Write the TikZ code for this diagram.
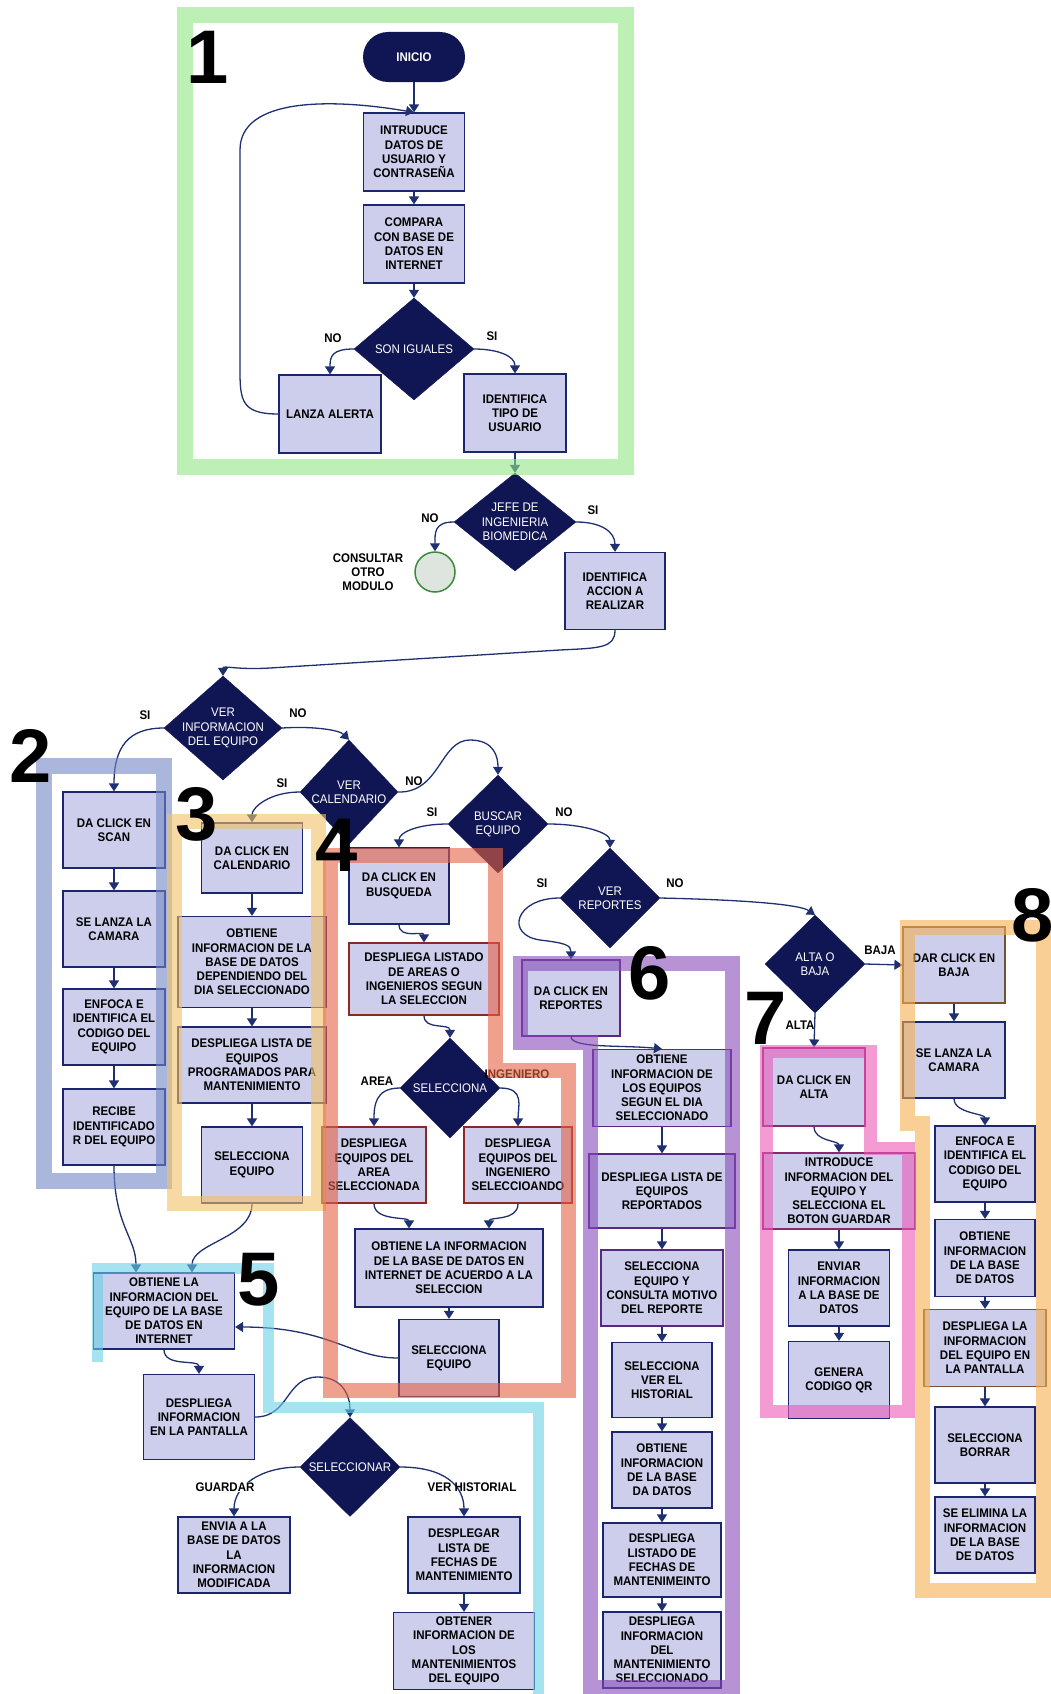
\documentclass[tikz,border=0pt]{standalone}
\usepackage{fontspec}
\usetikzlibrary{shapes.geometric,arrows.meta,calc}

\newfontfamily\cajafont[FakeStretch=0.92]{Liberation Sans}
\newfontfamily\numfont{Liberation Sans}
\newcommand{\cajatexto}{\cajafont\bfseries\fontsize{12.5}{14.3}\selectfont}
\newcommand{\rombotexto}{\cajafont\fontsize{12.5}{14.3}\selectfont}
\newcommand{\numtexto}{\numfont\bfseries\fontsize{76}{76}\selectfont}

\definecolor{marino}{RGB}{16,22,84}
\definecolor{lila}{RGB}{204,206,236}
\definecolor{bordecaja}{RGB}{28,38,110}
\definecolor{linea}{RGB}{30,48,112}
\definecolor{verdefin}{RGB}{58,138,58}
\definecolor{grisfin}{RGB}{222,228,222}
% colores de los marcos (se dibujan con opacidad)
\definecolor{verde1}{RGB}{145,230,132}
\definecolor{azul2}{RGB}{113,133,197}
\definecolor{naranja3}{RGB}{242,192,102}
\definecolor{salmon4}{RGB}{230,97,67}
\definecolor{cian5}{RGB}{107,208,230}
\definecolor{morado6}{RGB}{135,75,185}
\definecolor{rosa7}{RGB}{237,88,183}
\definecolor{naranja8}{RGB}{245,175,78}
\definecolor{borde4}{RGB}{140,40,40}
\definecolor{borde6}{RGB}{90,40,130}
\definecolor{borde7}{RGB}{140,40,110}
\definecolor{borde8}{RGB}{120,80,50}

\tikzset{
  caja/.style={rectangle, draw=bordecaja, line width=1.2pt, fill=lila, align=center, inner sep=1pt, font=\cajatexto},
  inicio/.style={rectangle, rounded corners=25pt, fill=marino, text=white, font=\cajatexto, minimum width=102pt, minimum height=50pt},
  rombo/.style={diamond, fill=marino, draw=marino, inner sep=0pt},
  rtexto/.style={text=white, align=center, font=\rombotexto, inner sep=0pt},
  fin/.style={circle, draw=verdefin, line width=1.5pt, fill=grisfin, minimum size=40pt, inner sep=0pt},
  flecha/.style={draw=linea, line width=1.3pt, -{Triangle[length=8pt,width=10pt]}},
  etiq/.style={font=\cajatexto, inner sep=1pt, align=center},
  marco/.style={line width=15pt, opacity=0.6, line join=miter},
  numero/.style={font=\numtexto, inner sep=0pt},
}

\begin{document}
\begin{tikzpicture}[x=1pt,y=1pt,yscale=-1]
\useasboundingbox (0,0) rectangle (1051,1694);

% modulo 1
\node[inicio] (inicio) at (414,57) {INICIO};
\node[caja, minimum width=101pt, minimum height=78pt] (intro) at (414,152) {INTRUDUCE\\DATOS DE\\USUARIO Y\\CONTRASEÑA};
\node[caja, minimum width=101pt, minimum height=78pt] (compara) at (414,244) {COMPARA\\CON BASE DE\\DATOS EN\\INTERNET};
\node[rombo, minimum width=120pt, minimum height=102pt, label={[rtexto]center:SON IGUALES}] (iguales) at (414,349) {};
\node[caja, minimum width=102pt, minimum height=78pt] (alerta) at (330,414) {LANZA ALERTA};
\node[caja, minimum width=102pt, minimum height=78pt] (tipo) at (515,413) {IDENTIFICA\\TIPO DE\\USUARIO};
\node[etiq] (lno1) at (333,338) {NO};
\node[etiq] (lsi1) at (492,336) {SI};

\node[rombo, minimum width=122pt, minimum height=98pt, label={[rtexto]center:JEFE DE\\INGENIERIA\\BIOMEDICA}] (jefe) at (515,522) {};
\node[fin] (otro) at (435,572) {};
\node[etiq] (consultar) at (368,572) {CONSULTAR\\OTRO\\MODULO};
\node[caja, minimum width=100pt, minimum height=77pt] (accion) at (615,591) {IDENTIFICA\\ACCION A\\REALIZAR};
\node[etiq] (lno2) at (430,518) {NO};
\node[etiq] (lsi2) at (593,510) {SI};

\draw[flecha] (inicio) -- (intro);
\draw[flecha] (intro) -- (compara);
\draw[flecha] (compara) -- (iguales);
\draw[flecha] (iguales.west) .. controls +(-22,0) and +(0,-18) .. (alerta.north);
\draw[flecha] (iguales.east) .. controls +(22,0) and +(0,-18) .. (tipo.north);
\draw[flecha] (alerta.west) .. controls (238,414) and (240,398) .. (240,360) -- (240,150) .. controls (240,98) and (330,98) .. (intro.north);
\draw[flecha] (tipo) -- (jefe);
\draw[flecha] (jefe.west) .. controls +(-20,0) and +(0,-18) .. (otro.north);
\draw[flecha] (jefe.east) .. controls +(25,0) and +(0,-20) .. (accion.north);

% menu principal
\node[rombo, minimum width=118pt, minimum height=104pt, label={[rtexto]center:VER\\INFORMACION\\DEL EQUIPO}] (verinfo) at (223,728) {};
\node[rombo, minimum width=98pt, minimum height=104pt, label={[rtexto]center:VER\\CALENDARIO}] (vercal) at (349,792) {};
\node[rombo, minimum width=100pt, minimum height=98pt, label={[rtexto]center:BUSCAR\\EQUIPO}] (buscar) at (498,824) {};
\node[rombo, minimum width=100pt, minimum height=100pt, label={[rtexto]center:VER\\REPORTES}] (verrep) at (610,898) {};
\node[rombo, minimum width=100pt, minimum height=98pt, label={[rtexto]center:ALTA O\\BAJA}] (altabaja) at (815,964) {};
\node[etiq] (lsi3) at (145,715) {SI};
\node[etiq] (lno3) at (298,713) {NO};
\node[etiq] (lsi4) at (282,783) {SI};
\node[etiq] (lno4) at (414,781) {NO};
\node[etiq] (lsi5) at (432,812) {SI};
\node[etiq] (lno5) at (564,812) {NO};
\node[etiq] (lsi6) at (542,883) {SI};
\node[etiq] (lno6) at (675,883) {NO};
\node[etiq] (lbaja) at (880,950) {BAJA};
\node[etiq] (lalta) at (800,1025) {ALTA};

\draw[flecha] (accion.south) .. controls +(0,18) and (600,648) .. (560,650) -- (270,668) .. controls (235,670) and (223,665) .. (verinfo.north);
\draw[flecha] (verinfo.east) .. controls +(30,-2) and +(-10,-10) .. (vercal.north);
\draw[flecha] (vercal.east) .. controls (440,793) and (440,740) .. (470,740) .. controls (495,740) and (498,758) .. (buscar.north);
\draw[flecha] (buscar.east) .. controls +(35,0) and +(0,-15) .. (verrep.north);
\draw[flecha] (verrep.east) .. controls +(90,2) and +(-15,-10) .. (altabaja.north);

% modulo 2
\node[caja, minimum width=102pt, minimum height=76pt] (scan) at (114,830) {DA CLICK EN\\SCAN};
\node[caja, minimum width=102pt, minimum height=76pt] (lanza) at (114,929) {SE LANZA LA\\CAMARA};
\node[caja, minimum width=102pt, minimum height=76pt] (enfoca) at (114,1027) {ENFOCA E\\IDENTIFICA EL\\CODIGO DEL\\EQUIPO};
\node[caja, minimum width=102pt, minimum height=76pt] (recibe) at (114,1127) {RECIBE\\IDENTIFICADO\\R DEL EQUIPO};
\draw[flecha] (verinfo.west) .. controls +(-35,0) and +(0,-45) .. (scan.north);
\draw[flecha] (scan) -- (lanza);
\draw[flecha] (lanza) -- (enfoca);
\draw[flecha] (enfoca) -- (recibe);

% modulo 3
\node[caja, minimum width=101pt, minimum height=70pt] (cal) at (252,858) {DA CLICK EN\\CALENDARIO};
\node[caja, minimum width=148pt, minimum height=91pt] (obtcal) at (252,962) {OBTIENE\\INFORMACION DE LA\\BASE DE DATOS\\DEPENDIENDO DEL\\DIA SELECCIONADO};
\node[caja, minimum width=148pt, minimum height=76pt] (listcal) at (252,1065) {DESPLIEGA LISTA DE\\EQUIPOS\\PROGRAMADOS PARA\\MANTENIMIENTO};
\node[caja, minimum width=101pt, minimum height=76pt] (selcal) at (252,1165) {SELECCIONA\\EQUIPO};
\draw[flecha] (vercal.west) .. controls +(-30,0) and +(0,-15) .. (cal.north);
\draw[flecha] (cal) -- (obtcal);
\draw[flecha] (obtcal) -- (listcal);
\draw[flecha] (listcal) -- (selcal);

% modulo 4
\node[caja, minimum width=100pt, minimum height=76pt] (busq) at (399,886) {DA CLICK EN\\BUSQUEDA};
\node[caja, draw=borde4, minimum width=150pt, minimum height=72pt] (listado) at (424,979) {DESPLIEGA LISTADO\\DE AREAS O\\INGENIEROS SEGUN\\LA SELECCION};
\node[rombo, minimum width=100pt, minimum height=100pt, label={[rtexto]center:SELECCIONA}] (selec) at (450,1088) {};
\node[etiq] (larea) at (377,1081) {AREA};
\node[etiq] (ling) at (517,1074) {INGENIERO};
\node[caja, draw=borde4, minimum width=104pt, minimum height=76pt] (area) at (374,1165) {DESPLIEGA\\EQUIPOS DEL\\AREA\\SELECCIONADA};
\node[caja, draw=borde4, minimum width=108pt, minimum height=76pt] (ing) at (518,1165) {DESPLIEGA\\EQUIPOS DEL\\INGENIERO\\SELECCIOANDO};
\node[caja, minimum width=188pt, minimum height=78pt] (obtbus) at (449,1268) {OBTIENE LA INFORMACION\\DE LA BASE DE DATOS EN\\INTERNET DE ACUERDO A LA\\SELECCION};
\node[caja, minimum width=100pt, minimum height=77pt] (selbus) at (449,1358) {SELECCIONA\\EQUIPO};
\draw[flecha] (buscar.west) .. controls +(-30,0) and +(0,-15) .. (busq.north);
\draw[flecha] (busq.south) .. controls +(0,15) and +(0,-12) .. (listado.north);
\draw[flecha] (listado.south) .. controls +(0,15) and +(0,-15) .. (selec.north);
\draw[flecha] (selec.west) .. controls +(-25,0) and +(0,-20) .. (area.north);
\draw[flecha] (selec.east) .. controls +(25,0) and +(0,-20) .. (ing.north);
\draw[flecha] (area.south) .. controls +(0,18) and +(0,-12) .. ($(obtbus.north)+(-40,0)$);
\draw[flecha] (ing.south) .. controls +(0,18) and +(0,-12) .. ($(obtbus.north)+(40,0)$);
\draw[flecha] (obtbus) -- (selbus);

% modulo 5
\node[caja, minimum width=141pt, minimum height=76pt] (obtinf) at (164,1311) {OBTIENE LA\\INFORMACION DEL\\EQUIPO DE LA BASE\\DE DATOS EN\\INTERNET};
\node[caja, minimum width=111pt, minimum height=85pt] (pantalla) at (199,1417) {DESPLIEGA\\INFORMACION\\EN LA PANTALLA};
\node[rombo, minimum width=100pt, minimum height=99pt, label={[rtexto]center:SELECCIONAR}] (selnar) at (350,1467) {};
\node[caja, minimum width=112pt, minimum height=76pt] (envia) at (234,1555) {ENVIA A LA\\BASE DE DATOS\\LA\\INFORMACION\\MODIFICADA};
\node[caja, minimum width=112pt, minimum height=76pt] (desplegar) at (464,1555) {DESPLEGAR\\LISTA DE\\FECHAS DE\\MANTENIMIENTO};
\node[caja, minimum width=141pt, minimum height=77pt] (obtener) at (464,1651) {OBTENER\\INFORMACION DE\\LOS\\MANTENIMIENTOS\\DEL EQUIPO};
\draw[flecha] (recibe.south) .. controls +(0,60) and +(0,-35) .. ($(obtinf.north)+(-28,0)$);
\draw[flecha] (selcal.south) .. controls +(0,35) and +(0,-30) .. ($(obtinf.north)+(28,0)$);
\draw[flecha] (selbus.west) .. controls (350,1358) and (330,1327) .. ($(obtinf.east)+(0,16)$);
\draw[flecha] (obtinf.south) .. controls +(0,18) and +(0,-15) .. (pantalla.north);
\draw[flecha] (pantalla.east) .. controls (290,1417) and (285,1377) .. (318,1377) .. controls (342,1377) and (350,1395) .. (selnar.north);
\draw[flecha] (selnar.west) .. controls +(-40,0) and +(0,-30) .. (envia.north);
\draw[flecha] (selnar.east) .. controls +(45,0) and +(0,-30) .. (desplegar.north);
\node[etiq, fill=white] (lguardar) at (225,1487) {GUARDAR};
\node[etiq] (lhist) at (472,1487) {VER HISTORIAL};
\draw[flecha] (desplegar) -- (obtener);

% modulo 6
\node[caja, draw=borde6, minimum width=98pt, minimum height=76pt] (rep) at (571,998) {DA CLICK EN\\REPORTES};
\node[caja, draw=borde6, minimum width=138pt, minimum height=77pt] (obtrep) at (662,1088) {OBTIENE\\INFORMACION DE\\LOS EQUIPOS\\SEGUN EL DIA\\SELECCIONADO};
\node[caja, draw=borde6, minimum width=146pt, minimum height=74pt] (listrep) at (662,1191) {DESPLIEGA LISTA DE\\EQUIPOS\\REPORTADOS};
\node[caja, draw=borde6, minimum width=122pt, minimum height=76pt] (motivo) at (662,1288) {SELECCIONA\\EQUIPO Y\\CONSULTA MOTIVO\\DEL REPORTE};
\node[caja, minimum width=100pt, minimum height=75pt] (hist) at (662,1380) {SELECCIONA\\VER EL\\HISTORIAL};
\node[caja, minimum width=100pt, minimum height=76pt] (obtdat) at (662,1470) {OBTIENE\\INFORMACION\\DE LA BASE\\DA DATOS};
\node[caja, minimum width=118pt, minimum height=74pt] (fechas) at (662,1560) {DESPLIEGA\\LISTADO DE\\FECHAS DE\\MANTENIMEINTO};
\node[caja, minimum width=118pt, minimum height=76pt] (mant) at (662,1650) {DESPLIEGA\\INFORMACION\\DEL\\MANTENIMIENTO\\SELECCIONADO};
\draw[flecha] (verrep.west) .. controls (515,898) and (505,935) .. (540,940) .. controls (565,943) and (571,945) .. (rep.north);
\draw[flecha] (rep.south) .. controls +(0,12) and +(-40,-4) .. (obtrep.north);
\draw[flecha] (obtrep) -- (listrep);
\draw[flecha] (listrep) -- (motivo);
\draw[flecha] (motivo) -- (hist);
\draw[flecha] (hist) -- (obtdat);
\draw[flecha] (obtdat) -- (fechas);
\draw[flecha] (fechas) -- (mant);

% modulo 7
\node[caja, draw=borde7, minimum width=102pt, minimum height=78pt] (alta) at (814,1087) {DA CLICK EN\\ALTA};
\node[caja, draw=borde7, minimum width=152pt, minimum height=76pt] (introd) at (839,1191) {INTRODUCE\\INFORMACION DEL\\EQUIPO Y\\SELECCIONA EL\\BOTON GUARDAR};
\node[caja, minimum width=101pt, minimum height=76pt] (enviar) at (839,1288) {ENVIAR\\INFORMACION\\A LA BASE DE\\DATOS};
\node[caja, minimum width=101pt, minimum height=77pt] (qr) at (839,1380) {GENERA\\CODIGO QR};
\draw[flecha] (altabaja.south) -- (alta.north);
\draw[flecha] (alta.south) .. controls +(0,15) and +(0,-12) .. (introd.north);
\draw[flecha] (introd) -- (enviar);
\draw[flecha] (enviar) -- (qr);

% modulo 8
\node[caja, draw=borde8, minimum width=102pt, minimum height=76pt] (baja) at (954,965) {DAR CLICK EN\\BAJA};
\node[caja, minimum width=102pt, minimum height=76pt] (camara) at (954,1060) {SE LANZA LA\\CAMARA};
\node[caja, minimum width=100pt, minimum height=76pt] (enfbaja) at (985,1164) {ENFOCA E\\IDENTIFICA EL\\CODIGO DEL\\EQUIPO};
\node[caja, minimum width=100pt, minimum height=77pt] (obtbaja) at (985,1258) {OBTIENE\\INFORMACION\\DE LA BASE\\DE DATOS};
\node[caja, draw=borde8, minimum width=122pt, minimum height=77pt] (pantbaja) at (985,1348) {DESPLIEGA LA\\INFORMACION\\DEL EQUIPO EN\\LA PANTALLA};
\node[caja, minimum width=100pt, minimum height=76pt] (borrar) at (985,1445) {SELECCIONA\\BORRAR};
\node[caja, minimum width=100pt, minimum height=76pt] (elimina) at (985,1535) {SE ELIMINA LA\\INFORMACION\\DE LA BASE\\DE DATOS};
\draw[flecha] (altabaja.east) -- (baja.west);
\draw[flecha] (baja) -- (camara);
\draw[flecha] (camara.south) .. controls +(0,15) and +(0,-12) .. (enfbaja.north);
\draw[flecha] (enfbaja) -- (obtbaja);
\draw[flecha] (obtbaja) -- (pantbaja);
\draw[flecha] (pantbaja) -- (borrar);
\draw[flecha] (borrar) -- (elimina);

% marcos de los modulos
\draw[marco, verde1, line width=16pt] (185,15) rectangle (626,467);
\draw[marco, azul2, line width=16pt] (44,766) rectangle (164,1181);
\draw[marco, naranja3] (174,821) rectangle (318,1203);
\draw[marco, salmon4] (330,855) -- (495,855) -- (495,1070) -- (568,1070) -- (568,1390) -- (330,1390) -- cycle;
\draw[marco, cian5, line width=11pt] (97,1362) -- (97,1268) -- (268,1268) -- (268,1407) -- (538,1407) -- (538,1700);
\draw[marco, morado6] (520,963) -- (732,963) -- (732,1687) -- (590,1687) -- (590,1042) -- (520,1042) -- cycle;
\draw[marco, rosa7, line width=13pt] (766,1051) -- (870,1051) -- (870,1148) -- (908,1148) -- (908,1411) -- (766,1411) -- cycle;
\draw[marco, naranja8] (907,927) -- (1043,927) -- (1043,1590) -- (922,1590) -- (922,1123) -- (907,1123) -- cycle;

% numeros
\node[numero] (num1) at (208,57) {1};
\node[numero] (num2) at (31,756) {2};
\node[numero] (num3) at (197,814) {3};
\node[numero] (num4) at (337,845) {4};
\node[numero] (num5) at (259,1280) {5};
\node[numero] (num6) at (650,973) {6};
\node[numero] (num7) at (766,1018) {7};
\node[numero] (num8) at (1033,915) {8};

\end{tikzpicture}
\end{document}
